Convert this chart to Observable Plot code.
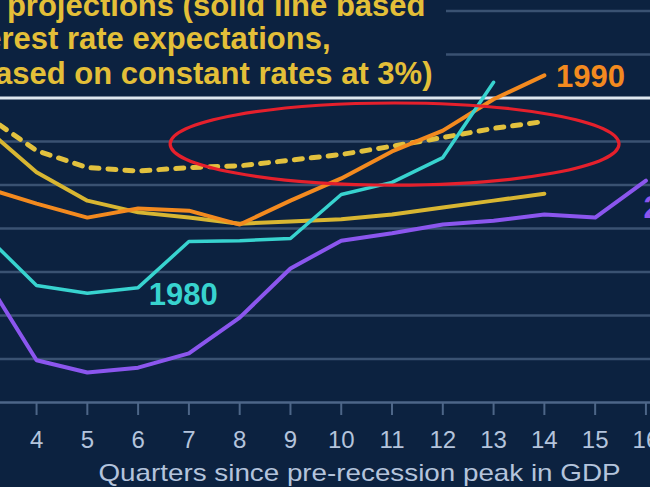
<!DOCTYPE html>
<html><head><meta charset="utf-8">
<script src="https://cdn.jsdelivr.net/npm/d3@7"></script>
<script src="https://cdn.jsdelivr.net/npm/@observablehq/plot@0.6"></script>
<style>
html,body{margin:0;padding:0;background:#0c2240;}
#chart{width:650px;height:487px;overflow:hidden;}
#chart svg{display:block;}
</style>
</head><body><div id="chart"></div>
<script>
// ---- data (index, pre-recession GDP peak = 100) ----
const quarters = [3,4,5,6,7,8,9,10,11,12,13,14,15,16];
const xTicks = [4,5,6,7,8,9,10,11,12,13,14,15,16];
const y1980 = [96.84,95.69,95.51,95.64,96.70,96.72,96.77,97.78,98.06,98.63,100.36];
const y1990 = [97.93,97.57,97.25,97.46,97.41,97.09,97.64,98.15,98.77,99.25,99.97,100.52];
const y2008 = [95.85,93.97,93.69,93.80,94.13,94.95,96.08,96.72,96.89,97.09,97.18,97.32,97.25,98.10];
const yProjMarket = [99.30,98.29,97.64,97.37,97.25,97.11,97.16,97.21,97.32,97.48,97.64,97.80];
const yProjConst = [99.60,98.79,98.40,98.32,98.40,98.44,98.57,98.70,98.89,99.09,99.30,99.46];
const gridValues = [94,95,96,97,98,99,101,102];
const baseValue = [100];
const axisValue = [93];
const labelText = ["1980","1990","2008"];
const labelQ = [6.89,14.91,15.95];
const labelV = [95.46,100.47,97.48];
const captionLines = ["projections (solid line based","erest rate expectations,","ased on constant rates at 3%)"];
const axisTitle = "Quarters since pre-recession peak in GDP";
const ellipseCenter = {q: 11.06, v: 98.93};
const ellipseRadius = {q: 4.42, v: 0.943};

// ---- styles ----
const bg = "#0c2240", gridC = "#3a5272", tickC = "#4d6688", textC = "#b4c4dc";
const cCyan = "#38d3cf", cOrange = "#f38a1f", cPurple = "#8b56ee", cYellow = "#d8b632", cDot = "#e2c13e", cRed = "#e5202c", cCaption = "#e3bf38";

const rows = (arr, name) => arr.map((v, i) => ({q: quarters[i], v, s: name}));
const s1980 = rows(y1980, "1980"), s1990 = rows(y1990, "1990"), s2008 = rows(y2008, "2008");
const sMarket = rows(yProjMarket, "market"), sConst = rows(yProjConst, "const");
const labels = labelText.map((t, i) => ({t, q: labelQ[i], v: labelV[i]}));

const coverBox = () => d3.create("svg:rect").attr("x", 0).attr("y", 0).attr("width", 446).attr("height", 95).attr("fill", bg).node();
const ellipseMark = (index, scales) => {
  const cx = scales.x(ellipseCenter.q), cy = scales.y(ellipseCenter.v);
  const rx = scales.x(ellipseCenter.q + ellipseRadius.q) - cx;
  const ry = cy - scales.y(ellipseCenter.v + ellipseRadius.v);
  return d3.create("svg:ellipse").attr("cx", cx).attr("cy", cy).attr("rx", rx).attr("ry", ry)
    .attr("fill", "none").attr("stroke", cRed).attr("stroke-width", 3.2).node();
};

const plot = Plot.plot({
  width: 650, height: 487,
  marginLeft: 0, marginRight: 0, marginTop: 0, marginBottom: 85,
  style: {background: bg, fontFamily: "'Liberation Sans', Arial, sans-serif", overflow: "hidden"},
  x: {domain: [3.29, 16.09], axis: null},
  y: {domain: [93, 102.24], axis: null},
  marks: [
    Plot.ruleY(gridValues, {stroke: gridC, strokeWidth: 2.5}),
    coverBox,
    Plot.ruleY(baseValue, {stroke: "#dfe7ef", strokeWidth: 3}),
    Plot.ruleY(axisValue, {stroke: tickC, strokeWidth: 2.5}),
    Plot.axisX(xTicks, {tickSize: 13, tickPadding: 15, stroke: tickC, strokeWidth: 2, fill: textC, fontSize: 24, label: null, tickFormat: d => String(d)}),
    Plot.line(sConst, {x: "q", y: "v", stroke: cDot, strokeWidth: 5, strokeDasharray: "8,9", clip: true}),
    Plot.line(sMarket, {x: "q", y: "v", stroke: cYellow, strokeWidth: 4, clip: true}),
    Plot.line(s1990, {x: "q", y: "v", stroke: cOrange, strokeWidth: 4, clip: true}),
    Plot.line(s1980, {x: "q", y: "v", stroke: cCyan, strokeWidth: 3.5, clip: true}),
    Plot.line(s2008, {x: "q", y: "v", stroke: cPurple, strokeWidth: 4, clip: true}),
    Plot.text(labels.slice(0, 2), {x: "q", y: "v", text: "t", fill: (d) => d.t === "1980" ? cCyan : cOrange, fontSize: 31, fontWeight: "bold"}),
    Plot.text(labels.slice(2), {x: "q", y: "v", text: "t", fill: cPurple, fontSize: 31, fontWeight: "bold", textAnchor: "start"}),
    ellipseMark,
    Plot.text([captionLines[0]], {frameAnchor: "top-left", dx: 425, dy: 15, textAnchor: "end", lineAnchor: "bottom", fill: cCaption, fontSize: 31, fontWeight: "bold"}),
    Plot.text([captionLines[1]], {frameAnchor: "top-left", dx: 330, dy: 48, textAnchor: "end", lineAnchor: "bottom", fill: cCaption, fontSize: 31, fontWeight: "bold"}),
    Plot.text([captionLines[2]], {frameAnchor: "top-left", dx: 432, dy: 83, textAnchor: "end", lineAnchor: "bottom", fill: cCaption, fontSize: 31, fontWeight: "bold"}),
    Plot.text([axisTitle], {frameAnchor: "bottom", dx: 34, dy: 78, lineAnchor: "bottom", fill: textC, fontSize: 24})
  ]
});
document.getElementById("chart").appendChild(plot);
// stretch the axis title to the reference's width
d3.select(plot).selectAll("text").filter(function(){ return this.textContent === axisTitle; })
  .attr("textLength", 522).attr("lengthAdjust", "spacingAndGlyphs");
</script>
</body></html>
